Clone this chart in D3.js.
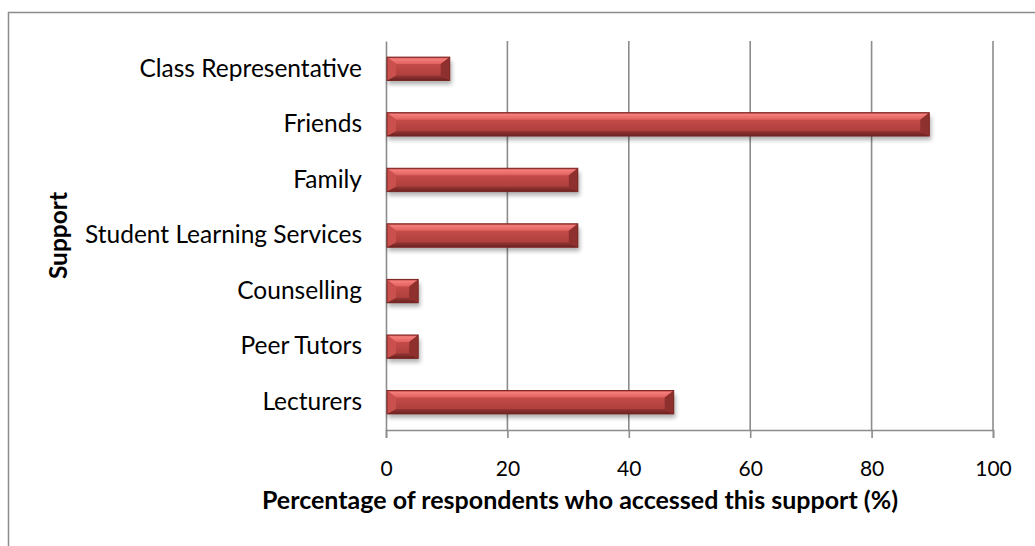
<!DOCTYPE html>
<html>
<head>
<meta charset="utf-8">
<script src="https://cdn.jsdelivr.net/npm/d3@7"></script>
<style>
  html, body { margin: 0; padding: 0; background: #fff; }
  svg { display: block; }
  text { font-family: Lato, "Open Sans", sans-serif; fill: #000; }
</style>
</head>
<body>
<svg id="chart" width="1035" height="546"></svg>
<script>
// Support sources, listed top to bottom
const categories = [
  "Class Representative",
  "Friends",
  "Family",
  "Student Learning Services",
  "Counselling",
  "Peer Tutors",
  "Lecturers"
];
// Percentage of respondents who accessed each support
const percentages = [10.5, 89.5, 31.6, 31.6, 5.3, 5.3, 47.4];
const xTicks = [0, 20, 40, 60, 80, 100];

const xTitle = "Percentage of respondents who accessed this support (%)";
const yTitle = "Support";

const svg = d3.select("#chart");
const W = 1035, H = 546;
const plot = { left: 386, right: 993, top: 41, bottom: 430 };

const x = d3.scaleLinear().domain([0, 100]).range([plot.left, plot.right]);
const y = d3.scaleBand().domain(categories).range([plot.top, plot.bottom]).paddingInner(0.58).paddingOuter(0.29);

const defs = svg.append("defs");

// Bevel shading for the bar faces
const gradTop = defs.append("linearGradient").attr("id", "bevelTop").attr("x1", 0).attr("y1", 0).attr("x2", 0).attr("y2", 1);
gradTop.append("stop").attr("offset", "0%").attr("stop-color", "#b8423f");
gradTop.append("stop").attr("offset", "25%").attr("stop-color", "#f47e7c");
gradTop.append("stop").attr("offset", "100%").attr("stop-color", "#e0605d");

const gradFace = defs.append("linearGradient").attr("id", "face").attr("x1", 0).attr("y1", 0).attr("x2", 0).attr("y2", 1);
gradFace.append("stop").attr("offset", "0%").attr("stop-color", "#cf524f");
gradFace.append("stop").attr("offset", "45%").attr("stop-color", "#bd4744");
gradFace.append("stop").attr("offset", "100%").attr("stop-color", "#a63c3a");

const gradBottom = defs.append("linearGradient").attr("id", "bevelBottom").attr("x1", 0).attr("y1", 0).attr("x2", 0).attr("y2", 1);
gradBottom.append("stop").attr("offset", "0%").attr("stop-color", "#973634");
gradBottom.append("stop").attr("offset", "100%").attr("stop-color", "#6a2221");

const shadow = defs.append("filter").attr("id", "shadow").attr("x", "-10%").attr("y", "-50%").attr("width", "120%").attr("height", "200%");
shadow.append("feGaussianBlur").attr("stdDeviation", 2.2);

// Outer frame (extends beyond the visible area on the right and bottom)
svg.append("path")
  .attr("d", `M8.5,${H + 5} L8.5,12.5 L${W + 5},12.5`)
  .attr("fill", "none").attr("stroke", "#8c8c8c").attr("stroke-width", 1.5);

// Vertical gridlines
svg.append("g").selectAll("line")
  .data(xTicks.filter(t => t > 0))
  .join("line")
  .attr("x1", d => x(d)).attr("x2", d => x(d))
  .attr("y1", plot.top).attr("y2", plot.bottom)
  .attr("stroke", "#8c8c8c").attr("stroke-width", 1.6);

// X axis
const xAxis = d3.axisBottom(x).tickValues(xTicks).tickSize(8).tickPadding(23).tickFormat(d3.format("d"));
const gx = svg.append("g").attr("transform", `translate(0,${plot.bottom})`).call(xAxis);
gx.select(".domain").attr("stroke", "#8c8c8c").attr("stroke-width", 1.6);
gx.selectAll(".tick line").attr("stroke", "#8c8c8c").attr("stroke-width", 1.6);
gx.selectAll(".tick text").attr("font-size", 21).attr("font-family", "Lato, sans-serif").attr("fill", "#000");

// Y axis (line only, labels)
const yAxis = d3.axisLeft(y).tickSize(0).tickPadding(24);
const gy = svg.append("g").attr("transform", `translate(${plot.left},0)`).call(yAxis);
gy.select(".domain").attr("stroke", "#8c8c8c").attr("stroke-width", 1.6);
gy.selectAll(".tick text").attr("font-size", 24.5).attr("font-family", "Lato, sans-serif").attr("fill", "#000");

// Bars with bevelled edges
const bars = svg.append("g").selectAll("g")
  .data(categories.map((c, i) => ({ c, v: percentages[i] })))
  .join("g");

bars.append("rect")
  .attr("x", d => x(0) + 2)
  .attr("y", d => y(d.c) + 4)
  .attr("width", d => x(d.v) - x(0))
  .attr("height", y.bandwidth())
  .attr("fill", "#000").attr("opacity", 0.3)
  .attr("filter", "url(#shadow)");

bars.each(function (d) {
  const g = d3.select(this);
  const x0 = x(0) + 1, x1 = x(d.v), y0 = y(d.c), y1 = y0 + y.bandwidth();
  const dv = Math.min(7, (x1 - x0) / 2, (y1 - y0) / 3);
  const dh = Math.min(9, (x1 - x0) / 2);
  const pts = a => a.map(p => p.join(",")).join(" ");
  // face
  g.append("rect").attr("x", x0).attr("y", y0).attr("width", x1 - x0).attr("height", y1 - y0).attr("fill", "url(#face)");
  // top bevel
  g.append("polygon").attr("points", pts([[x0, y0], [x1, y0], [x1 - dh, y0 + dv], [x0 + dh, y0 + dv]])).attr("fill", "url(#bevelTop)");
  // bottom bevel
  g.append("polygon").attr("points", pts([[x0, y1], [x1, y1], [x1 - dh, y1 - dv + 2], [x0 + dh, y1 - dv + 2]])).attr("fill", "url(#bevelBottom)");
  // left bevel
  g.append("polygon").attr("points", pts([[x0, y0], [x0 + dh, y0 + dv], [x0 + dh, y1 - dv + 2], [x0, y1]])).attr("fill", "#c9504d");
  // right bevel
  g.append("polygon").attr("points", pts([[x1, y0], [x1 - dh, y0 + dv], [x1 - dh, y1 - dv + 2], [x1, y1]])).attr("fill", "#8e302e");
  // outline
  g.append("rect").attr("x", x0).attr("y", y0).attr("width", x1 - x0).attr("height", y1 - y0)
    .attr("fill", "none").attr("stroke", "#7a2523").attr("stroke-width", 1);
});

// Axis titles
svg.append("text")
  .attr("x", 580).attr("y", 509)
  .attr("text-anchor", "middle")
  .attr("font-size", 25).attr("font-weight", "bold")
  .text(xTitle);

svg.append("text")
  .attr("transform", `translate(67,${(plot.top + plot.bottom) / 2}) rotate(-90)`)
  .attr("text-anchor", "middle")
  .attr("font-size", 24.5).attr("font-weight", "bold")
  .text(yTitle);
</script>
</body>
</html>
